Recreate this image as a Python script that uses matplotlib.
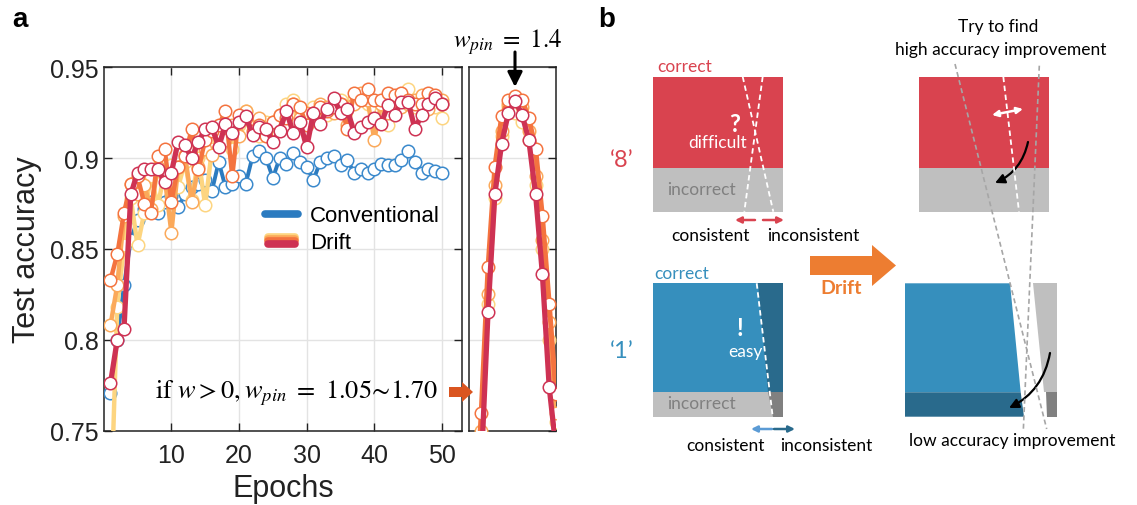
import matplotlib
matplotlib.use("Agg")
import matplotlib.pyplot as plt
from matplotlib.patches import Polygon, Rectangle, FancyArrowPatch
from matplotlib.lines import Line2D
from matplotlib.legend_handler import HandlerBase

plt.rcParams['mathtext.fontset'] = 'stix'
plt.rcParams['font.family'] = ['Liberation Sans', 'DejaVu Sans']

# ---------------- data ----------------
epochs = list(range(1, 51))
conventional = [0.771, 0.800, 0.830, 0.855, 0.866, 0.872, 0.876, 0.870, 0.876, 0.879,
                0.873, 0.880, 0.884, 0.886, 0.888, 0.882, 0.898, 0.884, 0.886, 0.890,
                0.886, 0.901, 0.904, 0.900, 0.889, 0.900, 0.897, 0.903, 0.898, 0.895,
                0.888, 0.898, 0.900, 0.901, 0.896, 0.899, 0.892, 0.894, 0.892, 0.894,
                0.897, 0.896, 0.896, 0.899, 0.904, 0.898, 0.892, 0.894, 0.893, 0.892]
drift_yellow = [0.700, 0.818, 0.852, 0.878, 0.852, 0.870, 0.890, 0.874, 0.892, 0.896,
                0.884, 0.898, 0.877, 0.900, 0.874, 0.905, 0.910, 0.912, 0.905, 0.918,
                0.926, 0.918, 0.912, 0.920, 0.918, 0.922, 0.930, 0.932, 0.925, 0.920,
                0.928, 0.926, 0.924, 0.930, 0.932, 0.928, 0.933, 0.935, 0.930, 0.928,
                0.926, 0.918, 0.928, 0.933, 0.938, 0.928, 0.930, 0.932, 0.928, 0.922]
drift_lightorange = [0.808, 0.830, 0.868, 0.886, 0.880, 0.885, 0.872, 0.895, 0.890, 0.859,
                     0.895, 0.902, 0.876, 0.895, 0.905, 0.902, 0.913, 0.910, 0.918, 0.912,
                     0.926, 0.920, 0.922, 0.915, 0.920, 0.924, 0.918, 0.930, 0.922, 0.925,
                     0.924, 0.930, 0.928, 0.925, 0.930, 0.918, 0.930, 0.936, 0.932, 0.910,
                     0.930, 0.925, 0.934, 0.928, 0.930, 0.932, 0.935, 0.927, 0.934, 0.932]
drift_orange = [0.833, 0.847, 0.870, 0.886, 0.890, 0.875, 0.870, 0.901, 0.905, 0.876,
                0.895, 0.901, 0.916, 0.894, 0.910, 0.915, 0.918, 0.926, 0.890, 0.924,
                0.922, 0.915, 0.918, 0.912, 0.920, 0.924, 0.922, 0.930, 0.928, 0.918,
                0.925, 0.928, 0.926, 0.928, 0.930, 0.916, 0.936, 0.932, 0.938, 0.932,
                0.932, 0.936, 0.935, 0.936, 0.932, 0.930, 0.930, 0.936, 0.935, 0.930]
drift_red = [0.776, 0.800, 0.806, 0.880, 0.892, 0.894, 0.894, 0.894, 0.887, 0.892,
             0.909, 0.907, 0.900, 0.909, 0.916, 0.917, 0.906, 0.919, 0.914, 0.920,
             0.923, 0.913, 0.917, 0.916, 0.909, 0.915, 0.926, 0.914, 0.920, 0.906,
             0.925, 0.919, 0.927, 0.933, 0.925, 0.927, 0.914, 0.917, 0.920, 0.922,
             0.919, 0.929, 0.924, 0.931, 0.931, 0.916, 0.924, 0.930, 0.933, 0.930]

wpin = [1.05, 1.10, 1.15, 1.20, 1.25, 1.30, 1.35, 1.40, 1.45, 1.50, 1.55, 1.60, 1.65, 1.70]
sweep_yellow = [0.60, 0.67, 0.745, 0.820, 0.878, 0.912, 0.928, 0.925, 0.920, 0.910, 0.885, 0.850, 0.800, 0.755]
sweep_lightorange = [0.60, 0.68, 0.750, 0.825, 0.885, 0.915, 0.930, 0.932, 0.928, 0.915, 0.890, 0.855, 0.810, 0.760]
sweep_orange = [0.62, 0.69, 0.760, 0.840, 0.895, 0.923, 0.932, 0.934, 0.932, 0.922, 0.905, 0.868, 0.820, 0.770]
sweep_red = [0.58, 0.65, 0.730, 0.8155, 0.880, 0.908, 0.925, 0.9315, 0.924, 0.910, 0.880, 0.836, 0.774, 0.740]

x_ticks = [10, 20, 30, 40, 50]
y_ticks = [0.75, 0.8, 0.85, 0.9, 0.95]
y_ticklabels = ['0.75', '0.8', '0.85', '0.9', '0.95']

C_BLUE = '#2B7BC0'
C_YEL = '#FDD580'
C_LOR = '#FBA95A'
C_ORA = '#F4733F'
C_RED = '#CE3253'
drift_colors = [C_YEL, C_LOR, C_ORA, C_RED]

W, H = 1137, 506
fig = plt.figure(figsize=(W / 100, H / 100), dpi=100)


def rect(l, t, r, b):
    return [l / W, 1 - b / H, (r - l) / W, (b - t) / H]


def style_axes(a):
    a.set_ylim(0.75, 0.95)
    a.set_yticks(y_ticks)
    a.grid(True, color='#E3E3E3', lw=1.0)
    a.set_axisbelow(True)
    a.tick_params(direction='in', top=True, right=True, length=6, width=1.0, colors='#222222')
    for s in a.spines.values():
        s.set_color('#222222')
        s.set_linewidth(1.1)


# ---------------- panel a main ----------------
ax = fig.add_axes(rect(103.7, 68.3, 462.3, 431.7))
style_axes(ax)
ax.set_xlim(0, 53)
ax.set_xticks(x_ticks)
ax.set_yticklabels(y_ticklabels, fontsize=18, color='#222222')
ax.set_xticklabels([str(t) for t in x_ticks], fontsize=18, color='#222222')
ax.tick_params(axis='x', pad=9)
ax.set_xlabel('Epochs', fontsize=22, color='#222222', labelpad=4)
ax.set_ylabel('Test accuracy', fontsize=22, color='#222222', labelpad=6)

mk = dict(marker='o', markersize=9, markerfacecolor='white', markeredgewidth=1.1)
ax.plot(epochs, conventional, color=C_BLUE, lw=2.8, markeredgecolor='#3A89CC', **mk, zorder=3)
for series, c, lw in [(drift_yellow, C_YEL, 3.2), (drift_lightorange, C_LOR, 3.2),
                      (drift_orange, C_ORA, 3.2), (drift_red, C_RED, 3.8)]:
    ax.plot(epochs, series, color=c, lw=lw, markeredgecolor=c, **mk, zorder=4)


class HandlerStack(HandlerBase):
    def __init__(self, colors, **kw):
        super().__init__(**kw)
        self.colors = colors

    def create_artists(self, legend, orig_handle, xdescent, ydescent, width, height, fontsize, trans):
        arts = []
        n = len(self.colors)
        for i, c in enumerate(self.colors):
            off = (i - (n - 1) / 2) * 1.6
            y = height / 2 - ydescent - off
            arts.append(Line2D([-xdescent + 2, width - xdescent - 2], [y, y], color=c, lw=5.5,
                               solid_capstyle='round', transform=trans))
        return arts


h_conv = Line2D([], [], color=C_BLUE, lw=5.5, solid_capstyle='round')
h_drift = Line2D([], [], color=C_RED, lw=5.5)
leg = ax.legend([h_conv, h_drift], ['Conventional', 'Drift'],
                handler_map={h_drift: HandlerStack(drift_colors)},
                loc='upper left', bbox_to_anchor=(0.395, 0.675), frameon=False,
                fontsize=16, handlelength=1.45, handletextpad=0.55, labelspacing=0.25)

# ---------------- panel a sweep ----------------
ax2 = fig.add_axes(rect(469, 68.3, 556, 431.7))
style_axes(ax2)
ax2.set_xlim(1.06, 1.70)
ax2.set_xticks([])
ax2.set_yticklabels([])
ax2.tick_params(axis='y', left=False)
for series, c, lw in [(sweep_yellow, C_YEL, 3.2), (sweep_lightorange, C_LOR, 3.2),
                      (sweep_orange, C_ORA, 3.6), (sweep_red, C_RED, 3.8)]:
    ax2.plot(wpin, series, color=c, lw=lw, markeredgecolor=c, **mk, zorder=4)

# ---------------- overlay ----------------
ov = fig.add_axes([0, 0, 1, 1])
ov.set_xlim(0, W)
ov.set_ylim(H, 0)
ov.axis('off')

ov.text(12, 20, 'a', fontsize=20, fontweight='bold', ha='left', va='center')
ov.text(598, 20, 'b', fontsize=20, fontweight='bold', ha='left', va='center')

ov.text(508, 42, r'$w_{pin}\ =\ 1.4$', fontsize=18, ha='center', va='center')
ov.add_patch(FancyArrowPatch((515, 53), (515, 88), arrowstyle='-|>', mutation_scale=22,
                             lw=2.2, color='black', shrinkA=0, shrinkB=0))
ov.text(438, 393, r'$\mathrm{if}\ w>0, w_{pin}\ =\ 1.05\!\sim\!1.70$', fontsize=19, ha='right', va='center')
ov.add_patch(Polygon([(449, 388), (462, 388), (462, 383), (473, 393), (462, 403), (462, 398), (449, 398)],
                     closed=True, color='#DA5520', lw=0))

# ---------------- panel b ----------------
BF = ['Lato', 'DejaVu Sans']
RED_B = '#D9434F'
GRAY_B = '#BFBFBF'
BLUE_B = '#368FBD'
DBLUE_B = '#296A8C'
DGRAY_B = '#808080'
fs = 12.5

# top-left '8'
ov.add_patch(Rectangle((652.7, 77.7), 130, 91.3, color=RED_B, lw=0))
ov.add_patch(Rectangle((652.7, 169), 130, 43.7, color=GRAY_B, lw=0))
ov.plot([742.7, 773.3], [77.7, 212.7], color='white', lw=1.3, ls=(0, (3, 2)))
ov.plot([762.7, 744.3], [77.7, 212.7], color='white', lw=1.3, ls=(0, (3, 2)))
ov.text(657, 67, 'correct', color=RED_B, fontsize=fs, family=BF, ha='left', va='center')
ov.text(735, 124, '?', color='white', fontsize=17, family=BF, fontweight='bold', ha='center', va='center')
ov.text(718, 143, 'difficult', color='white', fontsize=fs, family=BF, ha='center', va='center')
ov.text(667, 190, 'incorrect', color=DGRAY_B, fontsize=fs, family=BF, ha='left', va='center')
ov.text(622, 160, '\u20188\u2019', color=RED_B, fontsize=17, family=BF, ha='center', va='center')
ov.add_patch(FancyArrowPatch((755, 221), (735, 221), arrowstyle='-|>', mutation_scale=9, lw=1.8,
                             color=RED_B, shrinkA=0, shrinkB=0))
ov.add_patch(FancyArrowPatch((763, 221), (784, 221), arrowstyle='-|>', mutation_scale=9, lw=1.8,
                             color=RED_B, shrinkA=0, shrinkB=0))
ov.text(710, 236, 'consistent', color='black', fontsize=fs, family=BF, ha='center', va='center')
ov.text(813, 236, 'inconsistent', color='black', fontsize=fs, family=BF, ha='center', va='center')

# top-right
ov.add_patch(Rectangle((919.3, 77.7), 130, 91.3, color=RED_B, lw=0))
ov.add_patch(Rectangle((919.3, 169), 130, 43.7, color=GRAY_B, lw=0))
ov.plot([1003.3, 1019], [77.7, 212.7], color='white', lw=1.3, ls=(0, (3, 2)))
ov.add_patch(FancyArrowPatch((992, 116), (1023, 110), arrowstyle='<|-|>', mutation_scale=9, lw=1.8,
                             color='white', shrinkA=0, shrinkB=0))
ov.add_patch(FancyArrowPatch((1028, 143), (995, 184), arrowstyle='-|>', mutation_scale=14, lw=1.6,
                             color='black', connectionstyle='arc3,rad=-0.25', shrinkA=0, shrinkB=0))
ov.text(998, 27, 'Try to find', color='black', fontsize=fs, family=BF, ha='center', va='center')
ov.text(1001, 50, 'high accuracy improvement', color='black', fontsize=fs, family=BF, ha='center', va='center')

# Drift arrow
ov.add_patch(Polygon([(810, 257), (872, 257), (872, 246), (896, 266.5), (872, 287), (872, 276), (810, 276)],
                     closed=True, color='#ED7D31', lw=0))
ov.text(841, 289, 'Drift', color='#ED7D31', fontsize=14, family=BF, fontweight='bold', ha='center', va='center')

# bottom-left '1'
ov.add_patch(Rectangle((652.7, 284.3), 130, 109, color=BLUE_B, lw=0))
ov.add_patch(Rectangle((652.7, 393.3), 130, 24.4, color=GRAY_B, lw=0))
ov.add_patch(Polygon([(757.7, 284.3), (782.7, 284.3), (782.7, 393.3), (767.7, 393.3)], closed=True,
                     color=DBLUE_B, lw=0))
ov.add_patch(Polygon([(767.7, 393.3), (782.7, 393.3), (782.7, 417.7), (772.7, 417.7)], closed=True,
                     color=DGRAY_B, lw=0))
ov.plot([756.7, 772.7], [284.3, 417.7], color='white', lw=1.3, ls=(0, (3, 2)))
ov.text(654, 274, 'correct', color=BLUE_B, fontsize=fs, family=BF, ha='left', va='center')
ov.text(740, 329, '!', color='white', fontsize=17, family=BF, fontweight='bold', ha='center', va='center')
ov.text(745, 352, 'easy', color='white', fontsize=fs, family=BF, ha='center', va='center')
ov.text(667, 404, 'incorrect', color=DGRAY_B, fontsize=fs, family=BF, ha='left', va='center')
ov.text(622, 351, '\u20181\u2019', color=BLUE_B, fontsize=17, family=BF, ha='center', va='center')
ov.add_patch(FancyArrowPatch((772, 430), (751, 430), arrowstyle='-|>', mutation_scale=9, lw=1.8,
                             color='#5B9BD5', shrinkA=0, shrinkB=0))
ov.add_patch(FancyArrowPatch((774, 430), (795, 430), arrowstyle='-|>', mutation_scale=9, lw=1.8,
                             color=DBLUE_B, shrinkA=0, shrinkB=0))
ov.text(725, 446, 'consistent', color='black', fontsize=fs, family=BF, ha='center', va='center')
ov.text(826, 446, 'inconsistent', color='black', fontsize=fs, family=BF, ha='center', va='center')

# bottom-right
ov.add_patch(Polygon([(905, 284.3), (1010, 284.3), (1020.7, 393.3), (905, 393.3)], closed=True,
                     color=BLUE_B, lw=0))
ov.add_patch(Polygon([(905, 393.3), (1020.7, 393.3), (1024, 417.7), (905, 417.7)], closed=True,
                     color=DBLUE_B, lw=0))
ov.add_patch(Polygon([(1032.7, 284.3), (1056.7, 284.3), (1056.7, 393.3), (1044, 393.3)], closed=True,
                     color=GRAY_B, lw=0))
ov.add_patch(Polygon([(1045.5, 393.3), (1056.7, 393.3), (1056.7, 417.7), (1046.7, 417.7)], closed=True,
                     color=DGRAY_B, lw=0))
ov.add_patch(FancyArrowPatch((1050, 354), (1009, 409), arrowstyle='-|>', mutation_scale=14, lw=1.6,
                             color='black', connectionstyle='arc3,rad=-0.25', shrinkA=0, shrinkB=0))
ov.text(1012, 441, 'low accuracy improvement', color='black', fontsize=fs, family=BF, ha='center', va='center')

# long gray dashed guide lines
ov.plot([955, 1046.7], [65, 430], color='#A6A6A6', lw=1.2, ls=(0, (3, 2)))
ov.plot([1039.3, 1023.3], [66.7, 431.7], color='#A6A6A6', lw=1.2, ls=(0, (3, 2)))

fig.savefig('out.png', dpi=100)
